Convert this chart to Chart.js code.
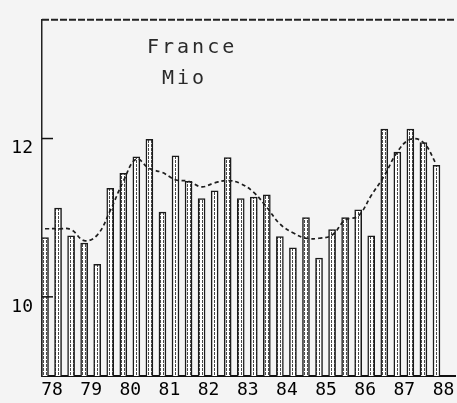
<!DOCTYPE html>
<html>
<head>
<meta charset="utf-8">
<script src="https://cdn.jsdelivr.net/npm/chart.js@4/dist/chart.umd.min.js"></script>
<style>
  html, body { margin: 0; padding: 0; background: #f4f4f4; }
  #wrap { width: 457px; height: 403px; }
</style>
</head>
<body>
<div id="wrap"><canvas id="c" width="457" height="403"></canvas></div>
<script>
// ---- data ----
const titleLines = ['France', 'Mio'];
const years = ['78', '79', '80', '81', '82', '83', '84', '85', '86', '87', '88'];
const periodsPerYear = 3;
const values = [
  10.75, 11.12, 10.77,
  10.68, 10.41, 11.37,
  11.56, 11.77, 11.99,
  11.07, 11.78, 11.46,
  11.24, 11.34, 11.76,
  11.24, 11.26, 11.29,
  10.76, 10.62, 11.00,
  10.49, 10.85, 11.00,
  11.10, 10.77, 12.12,
  11.83, 12.12, 11.95,
  11.66
];
const trend = [
  10.86, 10.86, 10.85,
  10.71, 10.78, 11.09,
  11.46, 11.74, 11.62,
  11.57, 11.48, 11.46,
  11.39, 11.44, 11.47,
  11.43, 11.32, 11.13,
  10.92, 10.81, 10.74,
  10.74, 10.78, 10.97,
  11.02, 11.28, 11.53,
  11.83, 11.99, 11.95,
  11.67
];
const yTicks = [10, 12];

// ---- styling helpers ----
const canvas = document.getElementById('c');
const ctx = canvas.getContext('2d');
const pc = document.createElement('canvas');
pc.width = 3; pc.height = 4;
const pctx = pc.getContext('2d');
pctx.fillStyle = '#ffffff'; pctx.fillRect(0, 0, 3, 4);
pctx.fillStyle = '#4a4a4a'; pctx.fillRect(1, 0, 1, 3);
const barPattern = ctx.createPattern(pc, 'repeat');

const tickFont = { family: '"DejaVu Sans Mono", "Liberation Mono", monospace', size: 18 };

const decor = {
  id: 'decor',
  beforeDraw(chart) {
    const c = chart.ctx;
    c.save();
    c.fillStyle = '#f4f4f4';
    c.fillRect(0, 0, chart.width, chart.height);
    c.restore();
  },
  afterDatasetsDraw(chart) {
    const c = chart.ctx;
    const a = chart.chartArea;
    const y = chart.scales.y;
    c.save();
    // top frame line
    c.strokeStyle = '#222';
    c.lineWidth = 2;
    c.setLineDash([7, 2]);
    c.beginPath();
    c.moveTo(a.left, a.top);
    c.lineTo(a.right, a.top);
    c.stroke();
    // inner tick marks on the y axis
    c.setLineDash([]);
    c.lineWidth = 1.5;
    c.strokeStyle = '#111';
    yTicks.forEach(v => {
      const py = y.getPixelForValue(v);
      c.beginPath();
      c.moveTo(a.left, py);
      c.lineTo(a.left + 11, py);
      c.stroke();
    });
    // title text
    c.fillStyle = '#2a2a2a';
    c.font = '20px "DejaVu Sans Mono", "Liberation Mono", monospace';
    c.letterSpacing = '3px';
    c.textBaseline = 'alphabetic';
    c.fillText(titleLines[0], 147, 53);
    c.fillText(titleLines[1], 162, 84);
    c.restore();
  }
};

new Chart(ctx, {
  type: 'bar',
  data: {
    datasets: [
      {
        type: 'line',
        label: 'trend',
        data: trend.map((v, i) => ({ x: i, y: v })),
        borderColor: '#1e1e1e',
        borderWidth: 1.7,
        borderDash: [4, 3],
        pointRadius: 0,
        tension: 0.4,
        fill: false,
        order: 0
      },
      {
        type: 'bar',
        label: 'France',
        data: values.map((v, i) => ({ x: i, y: v })),
        backgroundColor: barPattern,
        borderColor: '#1a1a1a',
        borderWidth: 1.5,
        barThickness: 7,
        order: 1
      }
    ]
  },
  options: {
    responsive: false,
    animation: false,
    events: [],
    layout: { padding: { top: 12, right: 2, left: 0, bottom: 0 } },
    plugins: { legend: { display: false }, tooltip: { enabled: false }, title: { display: false } },
    scales: {
      x: {
        type: 'linear',
        offset: false,
        min: -0.23,
        max: 31.42,
        afterBuildTicks(scale) {
          scale.ticks = years.map((_, k) => ({ value: k * periodsPerYear }));
        },
        afterFit(scale) { scale.height = 27; },
        grid: { display: false, drawTicks: false, offset: false },
        border: { display: true, color: '#111', width: 2 },
        ticks: {
          autoSkip: false,
          maxRotation: 0,
          padding: 4,
          labelOffset: 7,
          color: '#000',
          font: tickFont,
          callback: (v) => years[Math.round(v / periodsPerYear)]
        }
      },
      y: {
        min: 9,
        max: 13.5,
        afterBuildTicks(scale) {
          scale.ticks = yTicks.map(v => ({ value: v }));
        },
        afterFit(scale) { scale.width = 42; },
        grid: { display: false, drawTicks: false },
        border: { display: true, color: '#222', width: 1.5, dash: [6, 2] },
        ticks: {
          padding: 9,
          labelOffset: 10,
          color: '#000',
          font: tickFont,
          callback: (v) => String(v)
        }
      }
    }
  },
  plugins: [decor]
});
</script>
</body>
</html>
